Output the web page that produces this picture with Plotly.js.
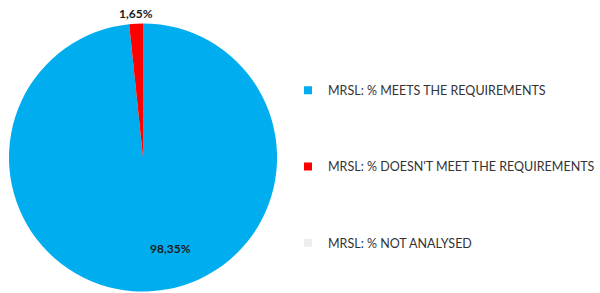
<!DOCTYPE html>
<html>
<head>
<meta charset="utf-8">
<script src="https://cdn.plot.ly/plotly-3.0.1.min.js"></script>
<style>html,body{margin:0;padding:0;background:#fff;}#chart{width:600px;height:293px;}</style>
</head>
<body>
<div id="chart"></div>
<script>
var categories = ["MRSL: % MEETS THE REQUIREMENTS", "MRSL: % DOESN'T MEET THE REQUIREMENTS", "MRSL: % NOT ANALYSED"];
var values = [98.35, 1.65, 0];
var colors = ["#00AEEF", "#FF0000", "#EEEEEE"];

var W = 600, H = 293;
var dom = {x: [9/W, 278/W], y: [1/H, 270/H]};

var pie = {
  type: 'pie',
  labels: categories,
  values: values,
  sort: false,
  direction: 'clockwise',
  rotation: 0,
  marker: {colors: colors, line: {width: 0}},
  textinfo: 'none',
  showlegend: false,
  hoverinfo: 'label+percent',
  domain: dom
};

var legendTraces = categories.map(function(c, i){
  return {
    type: 'scatter', x: [null], y: [null], mode: 'markers', name: c,
    legendgroup: 'g' + i,
    marker: {symbol: 'square', size: 8, color: colors[i]},
    showlegend: true, hoverinfo: 'skip'
  };
});

// slice labels placed along each slice bisector
var total = values.reduce(function(a, b){ return a + b; }, 0);
var cx = (dom.x[0] + dom.x[1]) / 2 * W;
var cy = (1 - (dom.y[0] + dom.y[1]) / 2) * H;
var R = (dom.x[1] - dom.x[0]) * W / 2;
var annotations = [];
var cum = 0;
values.forEach(function(v){
  var frac = v / total;
  if (v > 0) {
    var mid = (cum + frac / 2) * 2 * Math.PI;
    var inside = frac >= 0.05;
    var rr = inside ? R * 0.68 : R + 10;
    var px = cx + Math.sin(mid) * rr;
    var py = cy - Math.cos(mid) * rr;
    annotations.push({
      xref: 'paper', yref: 'paper', x: px / W, y: 1 - py / H,
      xanchor: inside ? 'left' : 'center', yanchor: 'middle',
      text: (frac * 100).toFixed(2).replace('.', ',') + '%',
      showarrow: false,
      font: {family: 'Lato', size: 12, color: '#1a1a1a', weight: 'bold'}
    });
  }
  cum += frac;
});

var layout = {
  width: W, height: H,
  margin: {l: 0, r: 0, t: 0, b: 0},
  paper_bgcolor: '#fff', plot_bgcolor: '#fff',
  xaxis: {visible: false}, yaxis: {visible: false},
  showlegend: true,
  annotations: annotations,
  legend: {
    x: 289/W, xanchor: 'left', y: 1 - 166.5/H, yanchor: 'middle',
    font: {family: 'Lato', size: 12.5, color: '#333'},
    tracegroupgap: 57, borderwidth: 0, bgcolor: 'rgba(0,0,0,0)'
  }
};

Plotly.newPlot('chart', [pie].concat(legendTraces), layout, {displayModeBar: false, staticPlot: true});
</script>
</body>
</html>
